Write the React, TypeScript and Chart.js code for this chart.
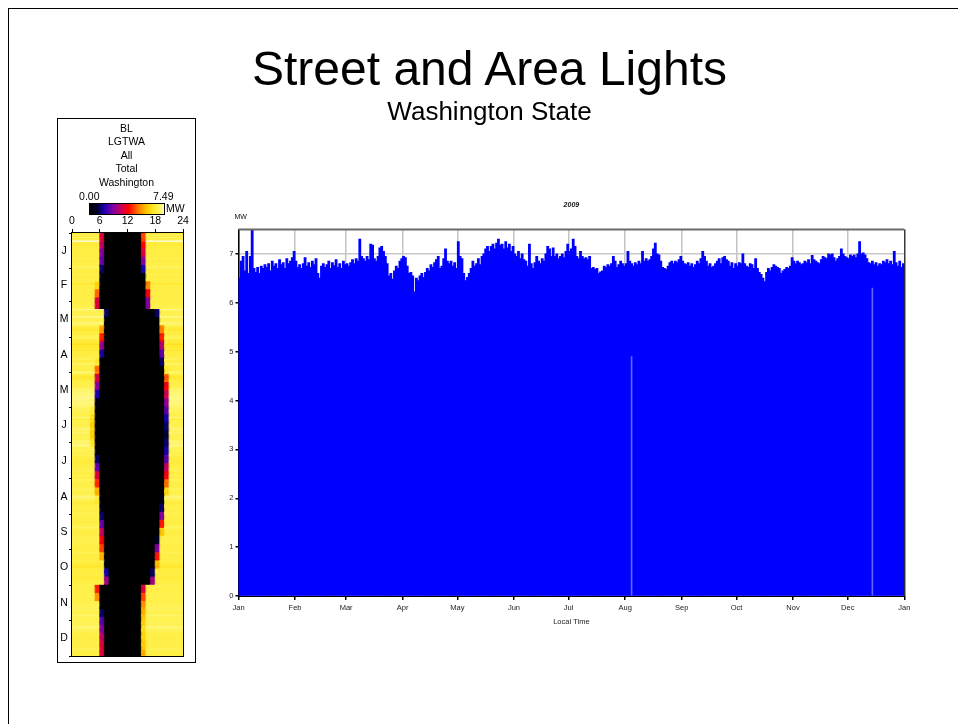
import React, { useEffect, useRef } from "react";
import { Chart, registerables } from "chart.js";

Chart.register(...registerables);

const FONT = "'Liberation Sans', Arial, Helvetica, sans-serif";

// ---- calendar and axis labels ----
const monthLabels = ["Jan", "Feb", "Mar", "Apr", "May", "Jun", "Jul", "Aug", "Sep", "Oct", "Nov", "Dec", "Jan"];
const monthStartDays = [0, 31, 59, 90, 120, 151, 181, 212, 243, 273, 304, 334, 365];
const monthInitials = ["J", "F", "M", "A", "M", "J", "J", "A", "S", "O", "N", "D"];
const loadTicksMW = [0, 1, 2, 3, 4, 5, 6, 7];
const loadAxisMaxMW = 7.5;
const hourTicks = [0, 6, 12, 18, 24];
const colorScaleMaxMW = 7.49;
const panelTitleLines = ["BL", "LGTWA", "All", "Total", "Washington"];

// ---- nightly peak load per day, 2009 (MW) ----
const janPeakMW = [6.5, 6.85, 6.95, 6.65, 7.05, 6.6, 6.95, 7.6, 6.7, 6.62, 6.72, 6.6, 6.75, 6.7, 6.78, 6.72, 6.8, 6.65, 6.85, 6.75, 6.8, 6.7, 6.88, 6.78, 6.82, 6.7, 6.9, 6.8, 6.85, 6.92, 7.05];
const febPeakMW = [6.85, 6.72, 6.78, 6.7, 6.8, 6.92, 6.75, 6.82, 6.72, 6.85, 6.78, 6.9, 6.6, 6.5, 6.75, 6.8, 6.72, 6.78, 6.85, 6.7, 6.82, 6.76, 6.88, 6.72, 6.8, 6.7, 6.85, 6.78];
const marPeakMW = [6.8, 6.75, 6.82, 6.88, 6.8, 6.9, 6.85, 7.3, 6.95, 6.9, 6.85, 6.95, 6.88, 7.2, 7.18, 6.9, 6.85, 6.95, 7.12, 7.15, 7.05, 6.95, 6.8, 6.55, 6.6, 6.48, 6.65, 6.75, 6.7, 6.85, 6.9];
const aprPeakMW = [6.95, 6.92, 6.75, 6.6, 6.62, 6.55, 6.22, 6.5, 6.45, 6.55, 6.6, 6.52, 6.62, 6.7, 6.65, 6.78, 6.72, 6.82, 6.88, 6.95, 6.7, 6.75, 6.9, 7.1, 6.85, 6.8, 6.85, 6.75, 6.82, 6.7];
const mayPeakMW = [7.25, 6.95, 6.9, 6.6, 6.45, 6.52, 6.6, 6.7, 6.85, 6.75, 6.8, 6.9, 6.78, 6.95, 7.0, 7.1, 7.15, 7.05, 7.15, 7.2, 7.1, 7.22, 7.3, 7.18, 7.2, 7.1, 7.25, 7.12, 7.2, 7.05, 7.15];
const junPeakMW = [7.0, 6.95, 7.05, 6.9, 7.0, 6.88, 6.85, 6.75, 7.2, 6.8, 6.7, 6.82, 6.95, 6.85, 6.8, 6.9, 6.85, 7.0, 7.15, 7.1, 6.95, 7.12, 6.95, 7.0, 6.9, 6.95, 7.0, 6.92, 7.05, 7.2];
const julPeakMW = [7.05, 7.1, 7.3, 7.15, 6.95, 6.9, 7.05, 6.95, 6.9, 6.92, 6.88, 6.95, 6.7, 6.72, 6.68, 6.7, 6.6, 6.63, 6.65, 6.75, 6.72, 6.78, 6.75, 6.8, 6.95, 6.85, 6.72, 6.78, 6.85, 6.8, 6.75];
const augPeakMW = [6.8, 7.05, 6.85, 6.8, 6.75, 6.82, 6.78, 6.85, 6.8, 7.05, 6.85, 6.9, 6.85, 6.88, 6.95, 7.1, 7.22, 7.0, 6.98, 6.85, 6.72, 6.7, 6.68, 6.75, 6.82, 6.85, 6.8, 6.85, 6.82, 6.88, 6.95];
const sepPeakMW = [6.85, 6.8, 6.78, 6.82, 6.75, 6.8, 6.72, 6.78, 6.85, 6.8, 6.9, 7.05, 6.95, 6.85, 6.75, 6.8, 6.72, 6.75, 6.8, 6.85, 6.9, 6.8, 6.92, 6.95, 6.88, 6.85, 6.75, 6.82, 6.7, 6.8];
const octPeakMW = [6.75, 6.82, 6.8, 7.0, 6.8, 6.75, 6.72, 6.8, 6.78, 6.7, 6.9, 6.7, 6.62, 6.58, 6.5, 6.43, 6.62, 6.7, 6.65, 6.72, 6.78, 6.75, 6.72, 6.7, 6.6, 6.65, 6.68, 6.72, 6.7, 6.75, 6.92];
const novPeakMW = [6.85, 6.8, 6.85, 6.82, 6.78, 6.8, 6.85, 6.82, 6.88, 6.8, 6.97, 6.88, 6.85, 6.82, 6.8, 6.88, 6.95, 6.92, 6.9, 7.0, 6.98, 7.0, 6.92, 6.85, 6.9, 6.95, 7.1, 7.0, 6.95, 6.92];
const decPeakMW = [6.9, 6.98, 6.95, 6.98, 6.92, 7.0, 7.25, 7.0, 7.02, 6.98, 6.9, 6.82, 6.8, 6.85, 6.78, 6.82, 6.75, 6.8, 6.78, 6.85, 6.82, 6.88, 6.8, 6.85, 6.78, 7.05, 6.82, 6.75, 6.85, 6.72, 6.8];

const dailyPeakMW = [
  ...janPeakMW, ...febPeakMW, ...marPeakMW, ...aprPeakMW, ...mayPeakMW, ...junPeakMW,
  ...julPeakMW, ...augPeakMW, ...sepPeakMW, ...octPeakMW, ...novPeakMW, ...decPeakMW,
];

// days whose load never returned to zero below a given level (thin gaps in the fill)
const gapDays = [215, 347];
const gapTopMW = [4.9, 6.3];

// ---- lighting schedule (local clock hours), one entry per period starting on the given day ----
const periodStartDay = [0, 7, 14, 21, 28, 35, 42, 49, 56, 66, 73, 80, 87, 94, 101, 108, 115, 122, 129, 136, 143, 150, 157, 164, 171, 178, 185, 192, 199, 206, 213, 220, 227, 234, 241, 248, 255, 262, 269, 276, 283, 290, 297, 304, 311, 318, 325, 332, 339, 346, 353, 360];
const lightsOffHour = [6.5, 6.45, 6.35, 6.3, 6.15, 6.05, 5.9, 5.7, 5.5, 7.15, 7.0, 6.8, 6.6, 6.4, 6.2, 5.95, 5.7, 5.5, 5.35, 5.2, 5.05, 4.95, 4.9, 4.85, 4.85, 4.9, 5.0, 5.15, 5.3, 5.5, 5.62, 5.8, 5.95, 6.05, 6.15, 6.3, 6.45, 6.55, 6.65, 6.82, 7.05, 7.2, 7.4, 5.6, 5.75, 6.0, 6.15, 6.28, 6.35, 6.45, 6.5, 6.5];
const lightsOnHour = [15.35, 15.42, 15.5, 15.65, 15.8, 16.0, 16.25, 16.45, 16.65, 18.85, 19.0, 19.25, 19.4, 19.55, 19.7, 19.85, 20.05, 20.3, 20.45, 20.55, 20.65, 20.72, 20.8, 20.85, 20.88, 20.85, 20.8, 20.7, 20.55, 20.45, 20.3, 20.12, 19.95, 19.85, 19.65, 19.4, 19.15, 18.9, 18.65, 18.4, 18.15, 17.85, 17.6, 15.5, 15.35, 15.25, 15.2, 15.15, 15.12, 15.12, 15.15, 15.2];

// ---- colour scale for the hourly map ----
const heatStops: [number, [number, number, number]][] = [
  [0.0, [0, 0, 0]],
  [0.1, [0, 0, 40]],
  [0.18, [20, 0, 170]],
  [0.3, [120, 0, 170]],
  [0.42, [200, 0, 90]],
  [0.52, [255, 0, 0]],
  [0.65, [255, 120, 0]],
  [0.78, [255, 205, 0]],
  [0.86, [255, 232, 45]],
  [0.93, [255, 242, 85]],
  [0.985, [255, 250, 160]],
  [1.0, [255, 255, 255]],
];

function heatColor(t: number): string {
  const v = Math.max(0, Math.min(1, t));
  for (let i = 1; i < heatStops.length; i++) {
    const [t1, c1] = heatStops[i];
    const [t0, c0] = heatStops[i - 1];
    if (v <= t1) {
      const k = (v - t0) / (t1 - t0 || 1);
      const c = c0.map((a, j) => Math.round(a + (c1[j] - a) * k));
      return `rgb(${c[0]},${c[1]},${c[2]})`;
    }
  }
  return "rgb(255,255,255)";
}

const gradientCss =
  "linear-gradient(to right, " +
  heatStops.map(([t, c]) => `rgb(${c[0]},${c[1]},${c[2]}) ${(t * 100).toFixed(1)}%`).join(", ") +
  ")";

function periodOf(day: number): number {
  let p = 0;
  while (p + 1 < periodStartDay.length && periodStartDay[p + 1] <= day) p++;
  return p;
}

const clamp01 = (v: number) => Math.max(0, Math.min(1, v));

export default function App() {
  const mainRef = useRef<HTMLCanvasElement>(null);
  const heatRef = useRef<HTMLCanvasElement>(null);

  useEffect(() => {
    if (!mainRef.current || !heatRef.current) return;

    // ---------- annual load chart ----------
    const frame = {
      id: "plotFrame",
      afterDatasetsDraw(chart: any) {
        const { ctx, chartArea: a } = chart;
        ctx.save();
        ctx.strokeStyle = "#6a6a6a";
        ctx.lineWidth = 2;
        ctx.beginPath();
        ctx.moveTo(a.left, a.top);
        ctx.lineTo(a.right, a.top);
        ctx.stroke();
        ctx.strokeStyle = "#000";
        ctx.lineWidth = 1;
        ctx.beginPath();
        ctx.moveTo(a.right + 0.5, a.top);
        ctx.lineTo(a.right + 0.5, a.bottom);
        ctx.stroke();
        ctx.restore();
      },
      afterDraw(chart: any) {
        const { ctx, chartArea: a } = chart;
        ctx.save();
        ctx.fillStyle = "#111";
        ctx.textBaseline = "middle";
        ctx.font = `italic bold 7px ${FONT}`;
        ctx.textAlign = "center";
        ctx.fillText("2009", (a.left + a.right) / 2, a.top - 24);
        ctx.font = `7px ${FONT}`;
        ctx.textAlign = "left";
        ctx.fillText("MW", a.left - 4, a.top - 12);
        ctx.restore();
      },
    };

    const mainChart = new Chart(mainRef.current, {
      type: "bar",
      data: {
        datasets: [
          {
            data: gapDays.map((d, i) => ({ x: d + 0.5, y: gapTopMW[i] })),
            backgroundColor: "rgba(110,110,255,0.9)",
            borderWidth: 0,
            barThickness: 1,
            grouped: false,
            order: 0,
          } as any,
          {
            data: dailyPeakMW.map((v, d) => ({ x: d + 0.5, y: v })),
            backgroundColor: "#0000ff",
            borderWidth: 0,
            barPercentage: 1,
            categoryPercentage: 1,
            inflateAmount: 0.5,
            grouped: false,
            order: 1,
          } as any,
        ],
      },
      options: {
        animation: false,
        responsive: false,
        devicePixelRatio: 1,
        layout: { padding: { left: 18.5, right: 25.7, top: 39.5, bottom: 10 } },
        plugins: { legend: { display: false }, tooltip: { enabled: false }, title: { display: false } },
        scales: {
          x: {
            type: "linear",
            min: 0,
            max: 365,
            offset: false,
            grid: { color: "#c4c4c4", lineWidth: 1.5, tickLength: 4, tickColor: "#000", offset: false },
            border: { color: "#000", width: 1 },
            ticks: {
              autoSkip: false,
              maxRotation: 0,
              padding: 3,
              color: "#222",
              font: { family: FONT, size: 7.5 },
              callback: (_v: any, i: number) => monthLabels[i],
            },
            afterBuildTicks: (s: any) => {
              s.ticks = monthStartDays.map((v) => ({ value: v }));
            },
            afterFit: (s: any) => {
              s.height = 34;
            },
            title: {
              display: true,
              text: "Local Time",
              color: "#222",
              font: { family: FONT, size: 7.5 },
              padding: { top: 0, bottom: 4 },
            },
          } as any,
          y: {
            type: "linear",
            min: 0,
            max: loadAxisMaxMW,
            grid: { color: "#c8c8c8", lineWidth: 1.5, tickLength: 3, tickColor: "#000" },
            border: { color: "#000", width: 1.5 },
            ticks: { padding: 2, color: "#222", font: { family: FONT, size: 7.5 } },
            afterBuildTicks: (s: any) => {
              s.ticks = loadTicksMW.map((v) => ({ value: v }));
            },
            afterFit: (s: any) => {
              s.width = 20;
            },
          } as any,
        },
      },
      plugins: [frame],
    });

    // ---------- hourly map ----------
    const cells: { x: number; y: [number, number] }[] = [];
    const colors: string[] = [];
    dailyPeakMW.forEach((peak, d) => {
      const p = periodOf(d);
      for (let h = 0; h < 24; h++) {
        const morning = clamp01(lightsOffHour[p] - h);
        const evening = clamp01(h + 1 - lightsOnHour[p]);
        const mw = Math.max(morning, evening) * peak;
        cells.push({ x: h + 0.5, y: [d, d + 1] });
        colors.push(heatColor(mw / colorScaleMaxMW));
      }
    });

    const monthMidDays = monthInitials.map((_, i) => (monthStartDays[i] + monthStartDays[i + 1]) / 2);

    const mapFrame = {
      id: "mapFrame",
      afterDatasetsDraw(chart: any) {
        const { ctx, chartArea: a } = chart;
        ctx.save();
        ctx.strokeStyle = "#000";
        ctx.lineWidth = 1;
        ctx.strokeRect(a.left - 0.5, a.top - 0.5, a.right - a.left + 1, a.bottom - a.top + 1);
        ctx.restore();
      },
      afterDraw(chart: any) {
        // month initials centred between the month ticks of the day axis
        const { ctx, chartArea: a } = chart;
        const yScale = chart.scales.y;
        ctx.save();
        ctx.fillStyle = "#000";
        ctx.font = `10.5px ${FONT}`;
        ctx.textAlign = "center";
        ctx.textBaseline = "middle";
        monthInitials.forEach((m, i) => {
          ctx.fillText(m, a.left - 8, yScale.getPixelForValue(monthMidDays[i]));
        });
        ctx.restore();
      },
    };

    const heatChart = new Chart(heatRef.current, {
      type: "bar",
      data: {
        datasets: [
          {
            data: cells as any,
            backgroundColor: colors,
            borderWidth: 0,
            barPercentage: 1,
            categoryPercentage: 1,
            inflateAmount: 0.5,
          } as any,
        ],
      },
      options: {
        animation: false,
        responsive: false,
        devicePixelRatio: 1,
        layout: { padding: { left: 11, right: 11, top: 1, bottom: 5 } },
        plugins: { legend: { display: false }, tooltip: { enabled: false } },
        scales: {
          x: {
            type: "linear",
            position: "top",
            min: 0,
            max: 24,
            offset: false,
            grid: { display: true, drawOnChartArea: false, tickLength: 4, tickColor: "#000", offset: false },
            border: { display: false },
            ticks: { autoSkip: false, maxRotation: 0, padding: 2, color: "#000", font: { family: FONT, size: 10.5 } },
            afterBuildTicks: (s: any) => {
              s.ticks = hourTicks.map((v) => ({ value: v }));
            },
            afterFit: (s: any) => {
              s.height = 18;
            },
          } as any,
          y: {
            type: "linear",
            position: "left",
            reverse: true,
            min: 0,
            max: 365,
            grid: { display: true, drawOnChartArea: false, tickLength: 3, tickColor: "#000" },
            border: { display: false },
            ticks: { display: false },
            afterBuildTicks: (s: any) => {
              s.ticks = monthStartDays.map((v) => ({ value: v }));
            },
            afterFit: (s: any) => {
              s.width = 3;
            },
          } as any,
        },
      },
      plugins: [mapFrame],
    });

    return () => {
      mainChart.destroy();
      heatChart.destroy();
    };
  }, []);

  const abs = (s: React.CSSProperties): React.CSSProperties => ({ position: "absolute", ...s });

  return (
    <div style={{ position: "relative", width: 942, height: 708, fontFamily: FONT, color: "#000" }}>
      <div
        style={{
          position: "fixed",
          left: 8,
          top: 8,
          width: 2000,
          height: 2000,
          borderLeft: "1px solid #000",
          borderTop: "1px solid #000",
          pointerEvents: "none",
        }}
      />
      <div style={abs({ left: 181.5, top: 37.4, width: 600, textAlign: "center", fontSize: 48, lineHeight: "48px" })}>
        Street and Area Lights
      </div>
      <div style={abs({ left: 181.5, top: 90, width: 600, textAlign: "center", fontSize: 26, lineHeight: "26px" })}>
        Washington State
      </div>

      {/* hourly map panel */}
      <div style={abs({ left: 49, top: 110, width: 139, height: 545, border: "1px solid #000", boxSizing: "border-box" })} />
      <div style={abs({ left: 49, top: 114, width: 139, textAlign: "center", fontSize: 10.5, lineHeight: "13.4px" })}>
        {panelTitleLines.map((t, i) => (
          <div key={i}>{t}</div>
        ))}
      </div>
      <div style={abs({ left: 61.3, top: 182.3, width: 40, textAlign: "center", fontSize: 10.5, lineHeight: "12px" })}>
        {(0).toFixed(2)}
      </div>
      <div style={abs({ left: 135.3, top: 182.3, width: 40, textAlign: "center", fontSize: 10.5, lineHeight: "12px" })}>
        {colorScaleMaxMW.toFixed(2)}
      </div>
      <div
        style={abs({
          left: 80.7,
          top: 195,
          width: 76,
          height: 12.3,
          border: "1px solid #000",
          boxSizing: "border-box",
          background: gradientCss,
        })}
      />
      <div style={abs({ left: 158, top: 194, fontSize: 10.5, lineHeight: "12px" })}>MW</div>
      <canvas ref={heatRef} width={136} height={447} style={abs({ left: 50, top: 206 })} />

      {/* annual load chart */}
      <canvas ref={mainRef} width={730} height={450} style={abs({ left: 192, top: 182 })} />
    </div>
  );
}
